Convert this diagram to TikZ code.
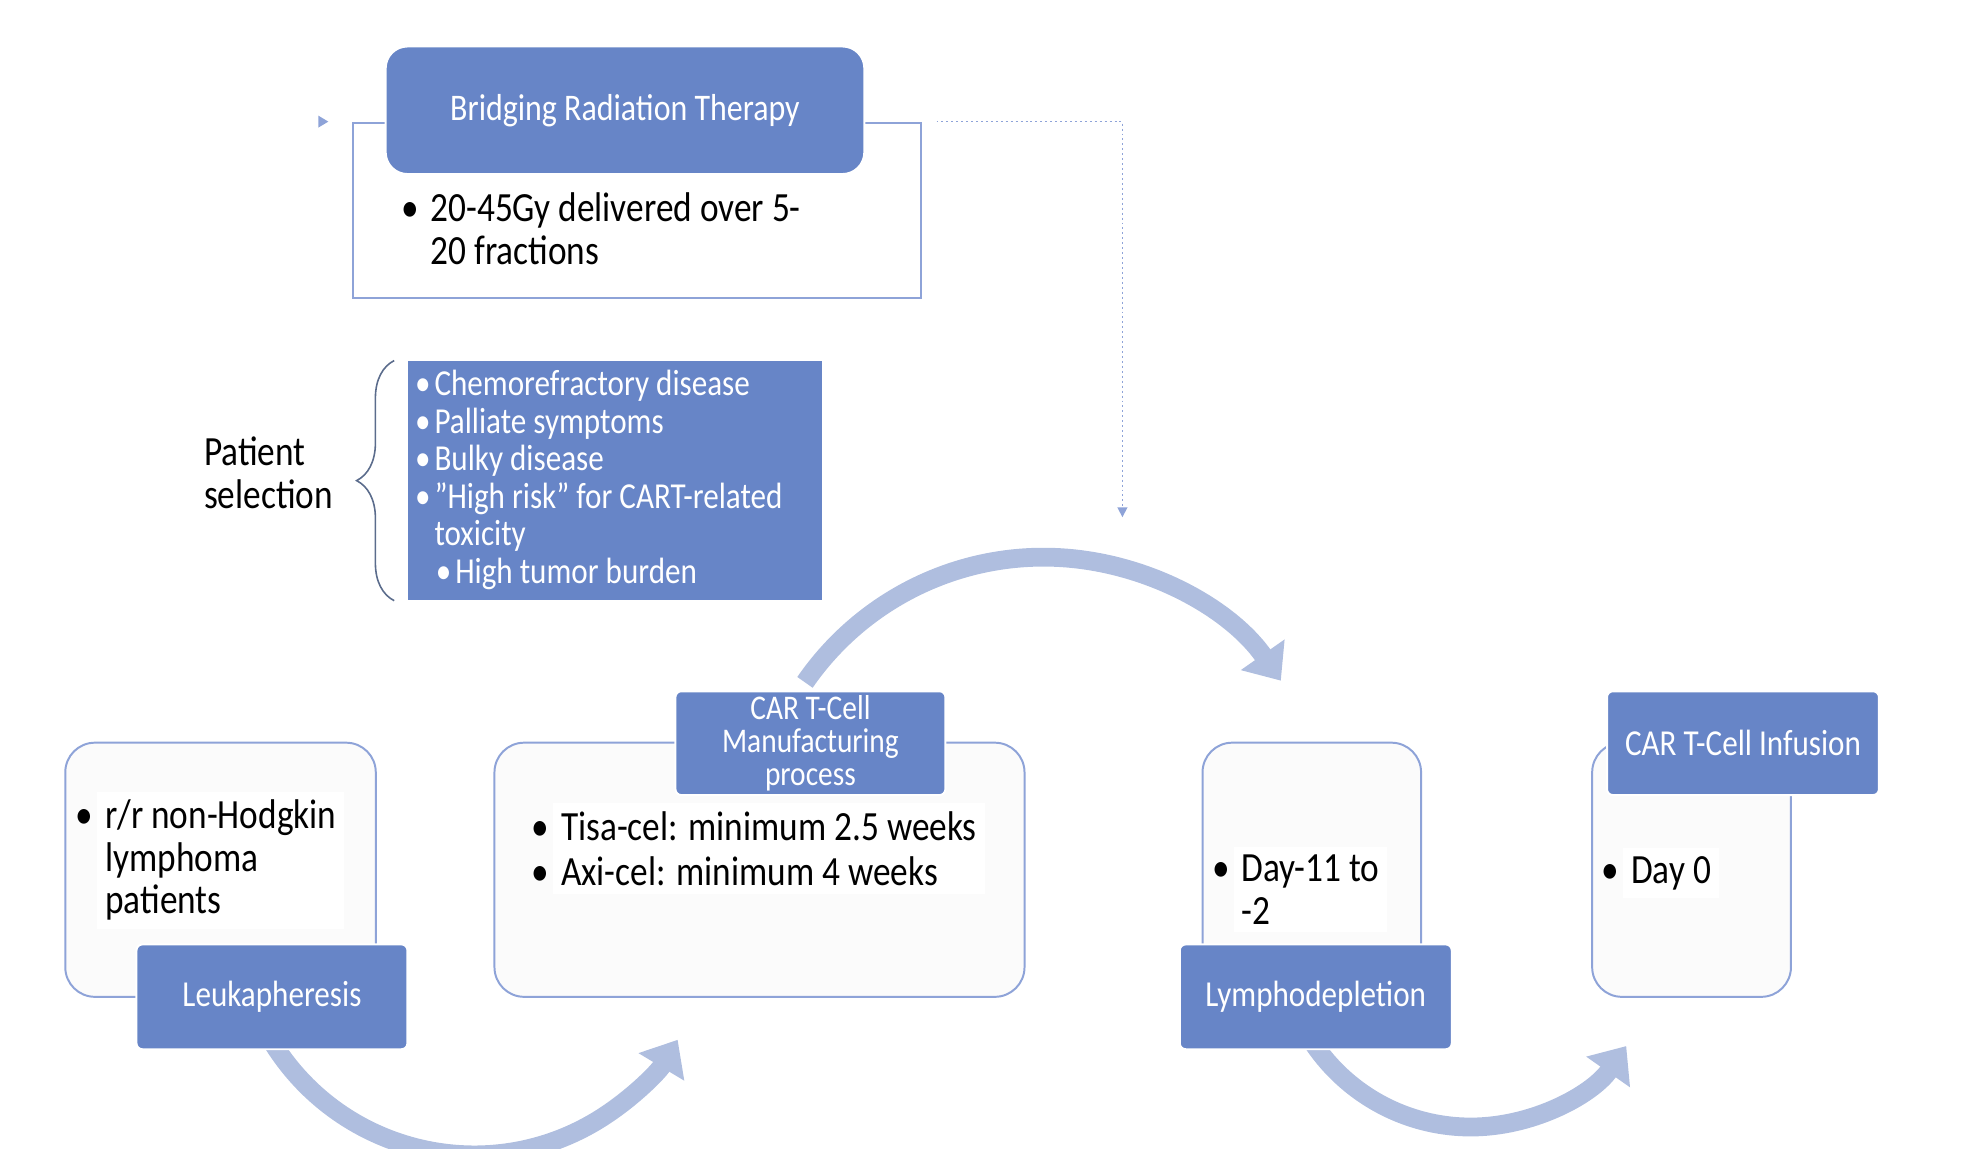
\documentclass[tikz,border=0pt]{standalone}
\usepackage{fontspec}
\setmainfont{Carlito}[FakeStretch=0.85]
\usetikzlibrary{positioning}
\usetikzlibrary{arrows.meta, decorations.pathreplacing}

\definecolor{headblue}{HTML}{6785C7}
\definecolor{boxline}{HTML}{8EA3D8}
\definecolor{boxfill}{HTML}{FBFBFB}
\definecolor{arcblue}{HTML}{AFBEDF}
\definecolor{bracecol}{HTML}{5B6C8C}

\newcommand{\itemdot}{\llap{\textbullet\hspace{6pt}}}
\newcommand{\listdot}{\llap{\textbullet\hspace{2pt}}}

\tikzset{
  stagebox/.style={draw=boxline, fill=boxfill, line width=1pt, rounded corners=15pt},
  headbox/.style={fill=headblue, draw=white, line width=1pt, text=white, rounded corners=3pt,
    align=center, inner sep=1pt, font=\fontsize{18.5}{15.5}\selectfont},
  bultxt/.style={anchor=west, fill=white, align=left, inner sep=4pt, font=\fontsize{21}{21.5}\selectfont},
  cycarrow/.style={draw=arcblue, line width=9.5pt, -{Triangle[length=16pt,width=26pt]}},
  dotline/.style={draw=boxline, line width=0.8pt, dash pattern=on 1pt off 1.5pt, -{Triangle[length=5pt,width=5pt]}},
}

\begin{document}
\begin{tikzpicture}[x=0.5pt,y=0.5pt]
\useasboundingbox (0,0) rectangle (1985,-1161);

% Cycle arrows (behind the boxes)
\coordinate (arcA) at (276,-1055);
\coordinate (arcB) at (814,-690);
\coordinate (arcC) at (1328,-1055);
\draw[cycarrow] (arcA) arc[start angle=212, end angle=329, radius=240];   % leukapheresis -> manufacturing
\draw[cycarrow] (arcB) arc[start angle=145.4, end angle=35, radius=293];  % manufacturing -> lymphodepletion
\draw[cycarrow] (arcC) arc[start angle=214, end angle=325, radius=192];   % lymphodepletion -> infusion

% Bridging radiation therapy
\node[draw=boxline, fill=white, line width=1pt, minimum width=287pt, minimum height=88.5pt] (bridgebox) at (644,-212.5) {};
\node[headbox, rounded corners=11pt, minimum width=242pt, minimum height=64.5pt,
  font=\fontsize{19}{19}\selectfont] (bridgehead) at (632,-111.5) {Bridging Radiation Therapy};
\node[bultxt] (bridgetxt) at (427,-231.5) {\itemdot 20-45Gy delivered over 5-\\20 fractions};
\fill[boxline] (322,-117) -- (332,-123) -- (322,-129) -- cycle;

% Dotted drop to the cycle
\coordinate (dropend) at (1135,-523);
\draw[dotline] ([xshift=7.5pt]bridgebox.north east) -| (dropend);

% Patient selection
\node[fill=headblue, minimum width=209pt, minimum height=121pt] (selbox) at (622,-486) {};
\foreach \yy/\xx/\txt [count=\i] in {
  390/439/\listdot Chemorefractory disease,
  428/439/\listdot Palliate symptoms,
  466/439/\listdot Bulky disease,
  504/439/\listdot ”High risk” for CART-related,
  542/439/toxicity,
  580/460/\listdot High tumor burden
} {
  \node[anchor=west, inner sep=0pt, text=white, font=\fontsize{18.5}{19}\selectfont] (sel\i) at (\xx,-\yy) {\txt};
}
\draw[bracecol, line width=0.8pt, decorate, decoration={brace, amplitude=19pt}]
  ([xshift=-7pt]selbox.south west) -- ([xshift=-7pt]selbox.north west);
\node[anchor=west, align=left, inner sep=0pt, font=\fontsize{21}{21.5}\selectfont] (seltitle) at (206,-478) {Patient\\selection};

% Stage boxes
\foreach \name/\cx/\w in {leukbox/223/157, mfgbox/768/268, lymphbox/1326.5/110.5, infbox/1710.5/100.5} {
  \node[stagebox, minimum width=\w pt, minimum height=128.5pt] (\name) at (\cx,-879.5) {};
}

% Stage headers
\node[headbox, minimum width=137pt, minimum height=53pt] (leukhead) at (275,-1008) {Leukapheresis};
\node[headbox, minimum width=136.5pt, minimum height=52.5pt, font=\fontsize{17.5}{16.5}\selectfont] (mfghead) at (819.5,-751.5) {CAR T-Cell\\Manufacturing\\process};
\node[headbox, minimum width=137.5pt, minimum height=53pt] (lymphhead) at (1330.5,-1008) {Lymphodepletion};
\node[headbox, minimum width=137.5pt, minimum height=52.5pt] (infhead) at (1762.5,-751.5) {CAR T-Cell Infusion};

% Stage details
\node[bultxt] (leuktxt) at (98,-870) {\itemdot r/r non-Hodgkin\\lymphoma\\patients};
\node[bultxt, font=\fontsize{21}{23}\selectfont] (mfgtxt) at (559,-858) {\itemdot Tisa-cel: minimum 2.5 weeks\\\itemdot Axi-cel: minimum 4 weeks};
\node[bultxt] (lymphtxt) at (1247,-899.5) {\itemdot Day-11 to\\-2};
\node[bultxt] (inftxt) at (1641,-883) {\itemdot Day 0};

\end{tikzpicture}
\end{document}
